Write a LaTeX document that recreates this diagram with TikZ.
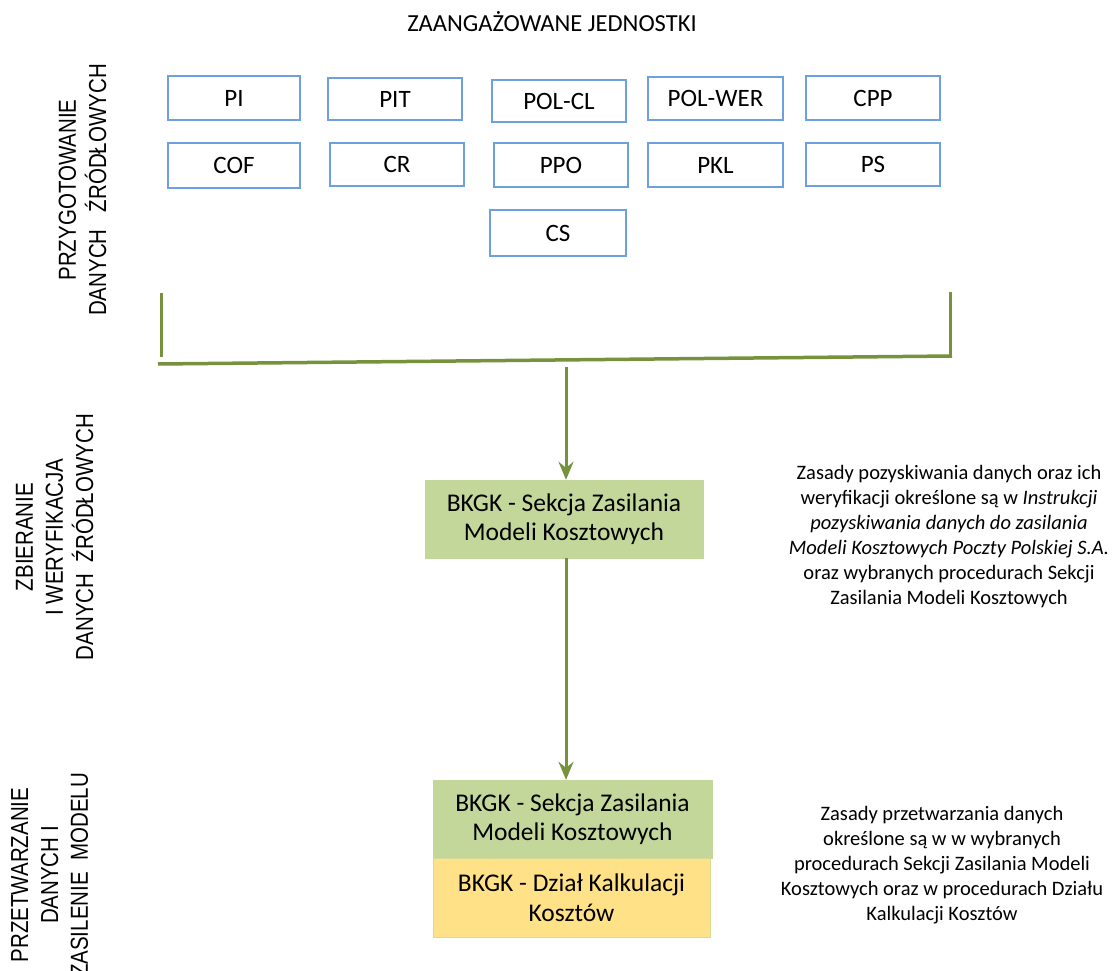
\documentclass[tikz,border=0pt]{standalone}
\usepackage{fontspec}
\setmainfont{Carlito}
\newfontfamily\rotfont{Liberation Sans}
\usetikzlibrary{arrows.meta}
\definecolor{boxblue}{RGB}{108,160,222}
\definecolor{lgreen}{RGB}{118,146,60}
\definecolor{gfill}{RGB}{196,215,155}
\definecolor{yfill}{RGB}{255,225,135}
\tikzset{
  unit/.style={draw=boxblue, line width=2pt, fill=white, inner sep=0pt,
    font=\fontsize{25}{30}\selectfont},
  gbox/.style={fill=gfill, draw=gfill, inner sep=0pt, align=center,
    minimum width=278pt, minimum height=78pt, font=\fontsize{25.5}{29.5}\selectfont},
  ybox/.style={fill=yfill, draw=gfill!70!yfill, inner sep=0pt, align=center,
    minimum width=277pt, minimum height=79pt, font=\fontsize{25.5}{29.5}\selectfont},
  gline/.style={draw=lgreen, line width=3pt},
  garrow/.style={draw=lgreen, line width=3pt, -{Stealth[length=18pt,width=15pt,inset=6pt]}},
  note/.style={align=center, font=\fontsize{20.5}{25}\selectfont},
  phase/.style={rotate=90, align=center, inner sep=0pt},
}
\newcommand{\phasetext}[1]{\scalebox{1}[1.2]{\rotfont\fontsize{20.5}{25}\selectfont\begin{tabular}{c}#1\end{tabular}}}
\begin{document}
\begin{tikzpicture}[x=1pt,y=-1pt]
\useasboundingbox (0,0) rectangle (1117,971);
\node (title) at (552,22) {\fontsize{24.5}{29}\selectfont ZAANGAŻOWANE JEDNOSTKI};
% units
\node[unit, minimum width=132pt, minimum height=44pt] (pi) at (234,98) {PI};
\node[unit, minimum width=134pt, minimum height=42pt] (pit) at (395,99) {PIT};
\node[unit, minimum width=134pt, minimum height=42pt] (polcl) at (559,101) {POL-CL};
\node[unit, minimum width=135pt, minimum height=43pt] (polwer) at (715.5,98.5) {POL-WER};
\node[unit, minimum width=134pt, minimum height=44pt] (cpp) at (873,98) {CPP};
\node[unit, minimum width=132pt, minimum height=45pt] (cof) at (234,165.5) {COF};
\node[unit, minimum width=134pt, minimum height=43pt] (cr) at (397,164.5) {CR};
\node[unit, minimum width=134pt, minimum height=44pt] (ppo) at (561,165) {PPO};
\node[unit, minimum width=135pt, minimum height=44pt] (pkl) at (715.5,165) {PKL};
\node[unit, minimum width=134pt, minimum height=43pt] (ps) at (873,164.5) {PS};
\node[unit, minimum width=136pt, minimum height=46pt] (cs) at (558,233) {CS};
% bracket
\coordinate (bl1) at (161,293);
\coordinate (bl2) at (161,357);
\coordinate (bh1) at (158,364);
\coordinate (bh2) at (952,356);
\coordinate (br1) at (950,292);
\coordinate (br2) at (950,357);
\coordinate (brk) at (566,367);
\draw[gline] (bl1) -- (bl2);
\draw[gline, line width=3.5pt] (bh1) -- (bh2);
\draw[gline] (br1) -- (br2);
% boxes
\node[gbox] (b1) at (564,519) {BKGK - Sekcja Zasilania\\Modeli Kosztowych};
\node[gbox, minimum width=279pt] (b2) at (572.5,819) {BKGK - Sekcja Zasilania\\Modeli Kosztowych};
\node[ybox] (b3) at (571.5,897.5) {BKGK - Dział Kalkulacji\\Kosztów};
\draw[garrow] (brk) -- (brk |- b1.north);
\draw[garrow] (brk |- b1.south) -- (brk |- b2.north);
% notes
\node[note] (n1) at (949,537) {Zasady pozyskiwania danych oraz ich\\weryfikacji określone są w \textit{Instrukcji}\\\textit{pozyskiwania danych do zasilania}\\\textit{Modeli Kosztowych Poczty Polskiej S.A.}\\oraz wybranych procedurach Sekcji\\Zasilania Modeli Kosztowych};
\node[note] (n2) at (942,865) {Zasady przetwarzania danych\\określone są w w wybranych\\procedurach Sekcji Zasilania Modeli\\Kosztowych oraz w procedurach Działu\\Kalkulacji Kosztów};
% phases
\node[phase] (p1) at (85,190) {\phasetext{PRZYGOTOWANIE\\DANYCH\ \ \ ŹRÓDŁOWYCH}};
\node[phase] (p2) at (57,537) {\phasetext{ZBIERANIE\\I WERYFIKACJA\\DANYCH\ \ ŹRÓDŁOWYCH}};
\node[phase] (p3) at (52,875) {\phasetext{PRZETWARZANIE\\DANYCH I\\ZASILENIE\ \ MODELU}};
\end{tikzpicture}
\end{document}
